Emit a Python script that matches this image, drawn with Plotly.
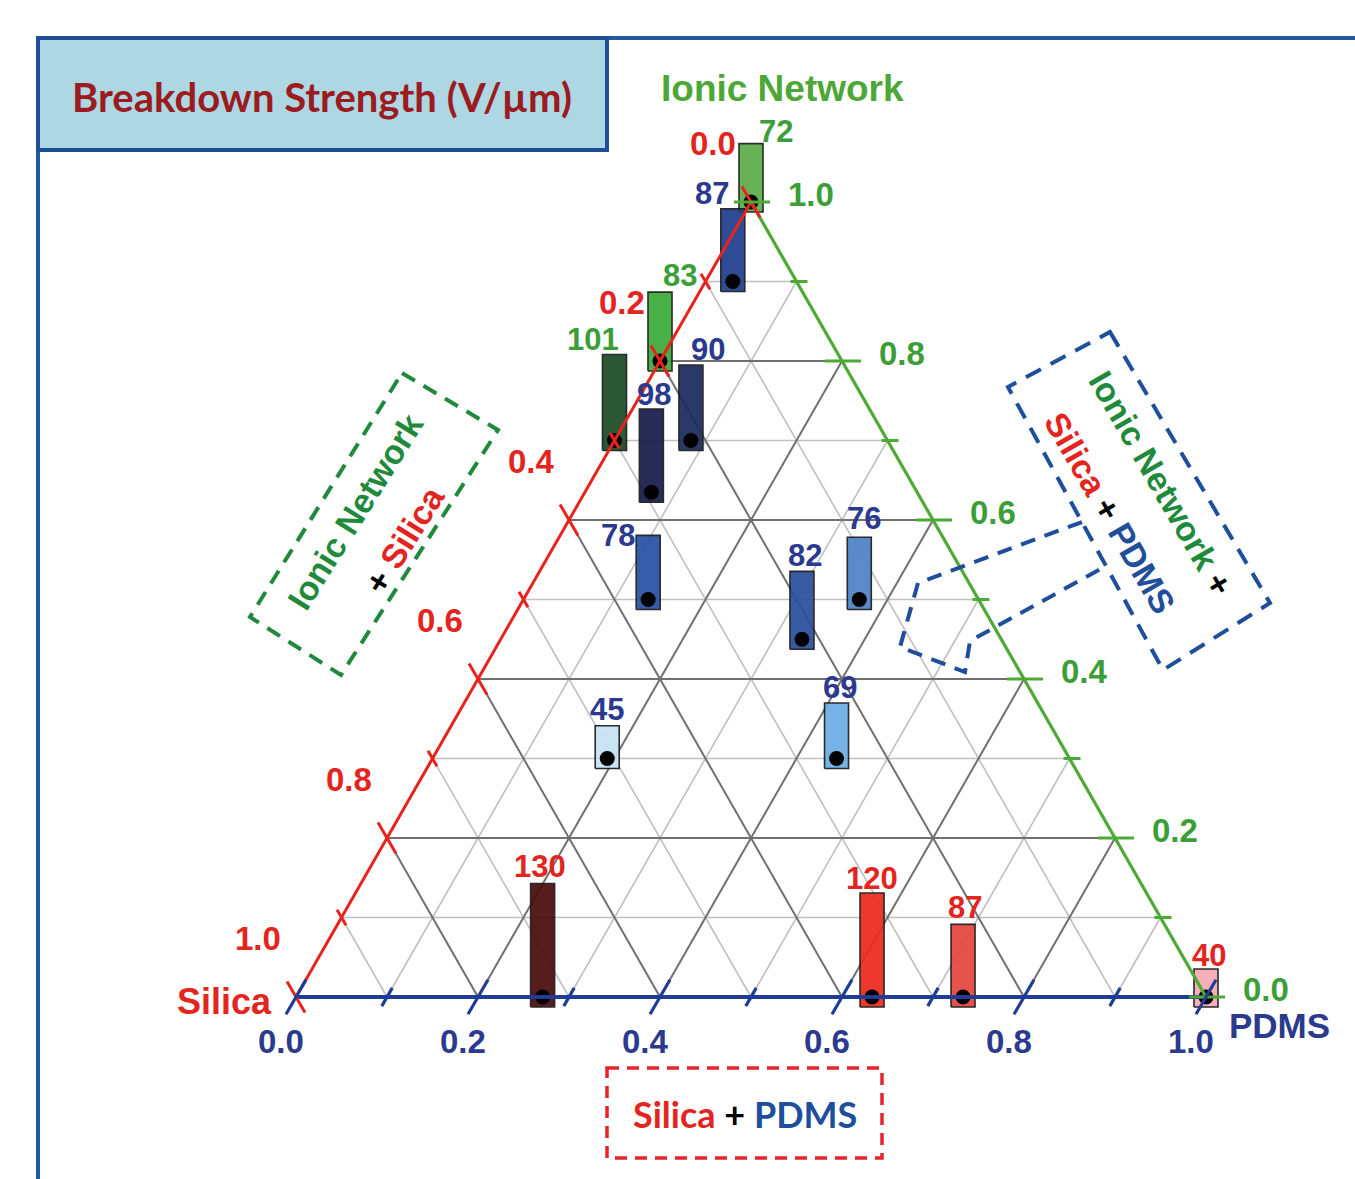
import math
import plotly.graph_objects as go

W, H = 1355, 1179

# ---------------------------------------------------------------- data ----
# Breakdown strength (V/um) measured for each composition
strength = [72, 87, 83, 101, 98, 90, 78, 82, 76, 45, 69, 130, 120, 87, 40]
# Component fractions of each composition (silica = remainder)
ionic = [1.00, 0.90, 0.80, 0.70, 0.635, 0.70, 0.50, 0.45, 0.50, 0.30, 0.30,
         0.00, 0.00, 0.00, 0.00]
pdms = [0.00, 0.03, 0.00, 0.00, 0.073, 0.084, 0.137, 0.331, 0.369, 0.192,
        0.444, 0.271, 0.633, 0.733, 1.00]
silica = [round(1 - i - p, 3) for i, p in zip(ionic, pdms)]

major_ticks = [0.0, 0.2, 0.4, 0.6, 0.8, 1.0]
major_tick_text = ["0.0", "0.2", "0.4", "0.6", "0.8", "1.0"]
minor_ticks = [0.1, 0.3, 0.5, 0.7, 0.9]
grid_levels = [0.1, 0.2, 0.3, 0.4, 0.5, 0.6, 0.7, 0.8, 0.9]

# ---------------------------------------------------------------- style ---
bar_fill = ["#5dad4a", "#1f3f8f", "#3caa3a", "#1b4b25", "#161c4c", "#1b2b5e",
            "#2651a6", "#2a4f9d", "#4f82c7", "#c6e3f5", "#6cafe6",
            "#4b0b0d", "#ec2a1f", "#e6463d", "#f5aab4"]
GREEN_T, BLUE_T, RED_T = "#3c9e38", "#2b3a8e", "#e3241f"
label_color = [GREEN_T, BLUE_T, GREEN_T, GREEN_T, BLUE_T, BLUE_T, BLUE_T,
               BLUE_T, BLUE_T, BLUE_T, BLUE_T, RED_T, RED_T, RED_T, RED_T]
# (xshift, yshift) in px of each value label relative to its bar top
label_shift = [(25, 12), (-21, 15), (20, 17), (-22, 15), (3, 15), (17, 16),
               (-30, 0), (3, 16), (5, 19), (0, 16), (3, 15), (-3, 17),
               (0, 15), (2, 17), (3, 14)]

RED_AX, GREEN_AX, BLUE_AX = "#e8231d", "#4daa34", "#1f3c96"
GRID_DARK, GRID_LIGHT = "#707070", "#c0c0c0"
NUM_FONT = "Liberation Sans, Arial, sans-serif"
CAL_FONT = "Lato, Open Sans, sans-serif"

# pixel geometry of the diagram frame
X0, Y0 = 296, 997          # silica corner
PX_X, PX_Y = 910, 795      # px per unit along x / per unit of height
BAR_HALF_PX = 12
BAR_DROP_PX = 10
BAR_PX_PER_UNIT = 0.95


def tern(s, i, p):
    """Ternary composition -> cartesian (x along base, y = ionic height)."""
    tot = s + i + p
    i, p = i / tot, p / tot
    return p + i / 2.0, i


def pxx(v):
    return v / PX_X


def pxy(v):
    return v / PX_Y


def paper(xp, yp):
    return xp / W, 1 - yp / H


def bold(txt):
    return f"<b>{txt}</b>"


fig = go.Figure()


def add_lines(segs, color, width, dash=None):
    xs, ys = [], []
    for (xa, ya), (xb, yb) in segs:
        xs += [xa, xb, None]
        ys += [ya, yb, None]
    fig.add_trace(go.Scatter(x=xs, y=ys, mode="lines", hoverinfo="skip",
                             line=dict(color=color, width=width, dash=dash),
                             showlegend=False))


# ---------------------------------------------------------- grid lines ----
dark, light = [], []
for t in grid_levels:
    segs = [
        (tern(1 - t, t, 0), tern(0, t, 1 - t)),      # constant ionic
        (tern(1 - t, 0, t), tern(0, 1 - t, t)),      # constant PDMS
        (tern(t, 0, 1 - t), tern(t, 1 - t, 0)),      # constant silica
    ]
    (dark if round(t * 10) % 2 == 0 else light).extend(segs)
add_lines(light, GRID_LIGHT, 1.6)
add_lines(dark, GRID_DARK, 2)

# ---------------------------------------------------------------- bars ----
for k, v in enumerate(strength):
    xc, yc = tern(silica[k], ionic[k], pdms[k])
    hw = pxx(BAR_HALF_PX)
    yb = yc - pxy(BAR_DROP_PX)
    yt = yb + pxy(v * BAR_PX_PER_UNIT)
    fig.add_trace(go.Scatter(
        x=[xc - hw, xc + hw, xc + hw, xc - hw, xc - hw],
        y=[yb, yb, yt, yt, yb], mode="lines", fill="toself",
        fillcolor=bar_fill[k], opacity=0.93,
        line=dict(color="#1a1a1a", width=1.6), hoverinfo="skip",
        showlegend=False))
    dx, dy = label_shift[k]
    fig.add_annotation(x=xc, y=yt, text=bold(v), showarrow=False,
                       xshift=dx, yshift=dy, xanchor="center",
                       yanchor="middle",
                       font=dict(family=NUM_FONT, size=31,
                                 color=label_color[k]))

# composition markers
pts = [tern(s, i, p) for s, i, p in zip(silica, ionic, pdms)]
fig.add_trace(go.Scatter(x=[q[0] for q in pts], y=[q[1] for q in pts],
                         mode="markers", hoverinfo="skip", showlegend=False,
                         marker=dict(color="black", size=15)))

# ---------------------------------------------------------- axis edges ----
A = tern(1, 0, 0)   # silica
B = tern(0, 0, 1)   # PDMS
C = tern(0, 1, 0)   # ionic network
add_lines([(A, C)], RED_AX, 3)
add_lines([(C, B)], GREEN_AX, 3.2)
add_lines([(A, B)], BLUE_AX, 4)

# ticks: each axis ticks run along its own grid direction
c60, s60 = math.cos(math.radians(60)), math.sin(math.radians(60))
blue_ticks, red_ticks, green_ticks = [], [], []
for t in major_ticks + minor_ticks:
    big = round(t * 10) % 2 == 0
    # PDMS axis (bottom): "/" ticks
    h = 20 if big else 10.5
    x, y = tern(1 - t, 0, t)
    blue_ticks.append(((x - pxx(h * c60), y - pxy(h * s60)),
                       (x + pxx(h * c60), y + pxy(h * s60))))
    # silica axis (left): "\" ticks
    h = 18 if big else 9
    x, y = tern(t, 1 - t, 0)
    red_ticks.append(((x - pxx(h * c60), y + pxy(h * s60)),
                      (x + pxx(h * c60), y - pxy(h * s60))))
    # ionic axis (right): horizontal ticks
    x, y = tern(0, t, 1 - t)
    a, b = (17, 19) if big else (6, 11)
    green_ticks.append(((x - pxx(a), y), (x + pxx(b), y)))
add_lines(red_ticks, RED_AX, 3)
add_lines(green_ticks, GREEN_AX, 3)
add_lines(blue_ticks, BLUE_AX, 3.2)

# tick labels
for t, txt in zip(major_ticks, major_tick_text):
    x, y = tern(1 - t, 0, t)
    fig.add_annotation(x=x, y=y, text=bold(txt), showarrow=False, xshift=-15,
                       yshift=-44, font=dict(family=NUM_FONT, size=33,
                                             color=BLUE_T))
    x, y = tern(0, t, 1 - t)
    fig.add_annotation(x=x, y=y, text=bold(txt), showarrow=False, xshift=60,
                       yshift=8, font=dict(family=NUM_FONT, size=33,
                                           color=GREEN_T))
    x, y = tern(t, 1 - t, 0)
    fig.add_annotation(x=x, y=y, text=bold(txt), showarrow=False, xshift=-38,
                       yshift=59, font=dict(family=NUM_FONT, size=33,
                                            color=RED_T))

# --------------------------------------------------------- decorations ----
shapes = []
FRAME = "#2458a0"
x1, y1 = paper(38, 38)
shapes.append(dict(type="line", xref="paper", yref="paper", x0=x1, y0=y1,
                   x1=1.0, y1=y1, line=dict(color=FRAME, width=4)))
shapes.append(dict(type="line", xref="paper", yref="paper", x0=x1, y0=y1,
                   x1=x1, y1=0.0, line=dict(color=FRAME, width=4)))
bx0, by0 = paper(38, 38)
bx1, by1 = paper(607, 150)
shapes.append(dict(type="rect", xref="paper", yref="paper", x0=bx0, y0=by1,
                   x1=bx1, y1=by0, fillcolor="#acd7e3",
                   line=dict(color="#1f4e96", width=4)))


def poly(points, color, width, dash, closed=True):
    p = []
    for n, (xp, yp) in enumerate(points):
        u, v = paper(xp, yp)
        p.append(("M" if n == 0 else "L") + f"{u:.5f},{v:.5f}")
    path = " ".join(p) + (" Z" if closed else "")
    shapes.append(dict(type="path", xref="paper", yref="paper", path=path,
                       line=dict(color=color, width=width, dash=dash)))


poly([(402, 373), (498, 430), (341, 675), (250, 617)], "#1f8a3c", 4,
     "15px,10px")
poly([(1110, 332), (1270, 603), (1163, 670), (1008, 387)], "#1d4f9c", 4,
     "17px,11px")
poly([(1082, 522), (918, 583), (900, 647), (965, 672), (970, 641),
      (1106, 566)], "#1d4f9c", 4, "15px,10px", closed=False)
poly([(607, 1068), (882, 1068), (882, 1158), (607, 1158)], "#e3242b", 3.5,
     "12px,8px")
fig.update_layout(shapes=shapes)


def label(xp, yp, text, size, family, color="black", angle=0):
    u, v = paper(xp, yp)
    fig.add_annotation(xref="paper", yref="paper", x=u, y=v, text=text,
                       showarrow=False, textangle=angle, xanchor="center",
                       yanchor="middle",
                       font=dict(family=family, size=size, color=color))


def span(txt, color):
    return f"<span style='color:{color}'>{txt}</span>"


label(322, 97, bold("Breakdown Strength (V/µm)"), 40, CAL_FONT, "#9c1b1f")
label(783, 88, bold("Ionic Network"), 37, NUM_FONT, "#4da737")
label(224, 1001, bold("Silica"), 36, NUM_FONT, RED_T)
label(1279, 1025, bold("PDMS"), 35, NUM_FONT, BLUE_T)

GREEN_BOX = "#1f8a3c"
label(355, 512, bold("Ionic Network"), 34, NUM_FONT, GREEN_BOX, angle=-58)
label(404, 540, bold(span("+", "black") + " " + span("Silica", RED_T)),
      34, NUM_FONT, angle=-58)
label(1161, 483, bold(span("Ionic Network", GREEN_BOX) + " "
                      + span("+", "black")), 34, NUM_FONT, angle=60)
label(1110, 513, bold(span("Silica", RED_T) + " " + span("+", "black")
                      + " " + span("PDMS", "#1f4e9a")), 34, NUM_FONT, angle=60)
label(745, 1114, bold(span("Silica", RED_T) + " " + span("+", "black")
                      + " " + span("PDMS", "#1f4e9a")), 36, CAL_FONT)

# ---------------------------------------------------------------- axes ----
fig.update_xaxes(range=[-X0 / PX_X, (W - X0) / PX_X], visible=False,
                 fixedrange=True)
fig.update_yaxes(range=[-(H - Y0) / PX_Y, Y0 / PX_Y], visible=False,
                 fixedrange=True)
fig.update_layout(width=W, height=H, margin=dict(l=0, r=0, t=0, b=0),
                  paper_bgcolor="white", plot_bgcolor="white",
                  showlegend=False)

fig.write_html("out.html")
